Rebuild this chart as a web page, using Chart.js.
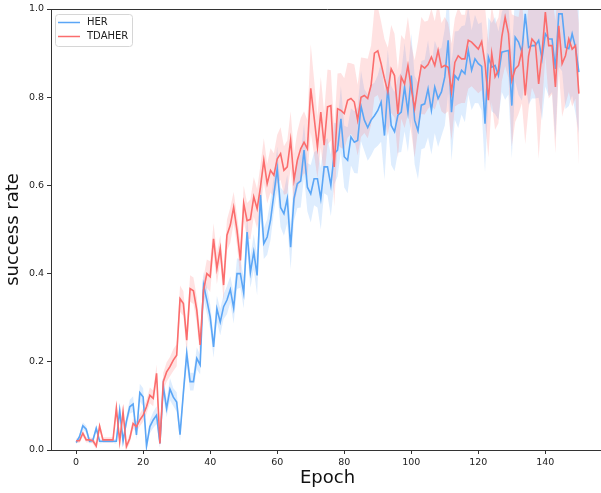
<!DOCTYPE html>
<html>
<head>
<meta charset="utf-8">
<title>success rate</title>
<script src="https://cdn.jsdelivr.net/npm/chart.js@4.4.1/dist/chart.umd.min.js"></script>
<style>
  html, body { margin: 0; padding: 0; background: #fff; overflow: hidden; }
  #wrap { width: 604px; height: 493px; }
</style>
</head>
<body>
<div id="wrap"><canvas id="lineChart" width="604" height="493"></canvas></div>
<script>
// Series labels and colours
var seriesNames = ['HER', 'TDAHER'];

// Mean success rate per epoch (0..150)
var her = [
  0.017, 0.03, 0.055, 0.047, 0.02, 0.022, 0.049, 0.02, 0.02, 0.02,
  0.02, 0.02, 0.02, 0.09, 0.02, 0.065, 0.098, 0.104, 0.034, 0.13,
  0.12, 0.009, 0.053, 0.068, 0.079, 0.015, 0.144, 0.094, 0.138, 0.12,
  0.109, 0.035, 0.13, 0.219, 0.155, 0.155, 0.208, 0.193, 0.374, 0.34,
  0.302, 0.234, 0.32, 0.29, 0.325, 0.34, 0.364, 0.322, 0.40, 0.40,
  0.356, 0.494, 0.403, 0.449, 0.396, 0.578, 0.468, 0.483, 0.521, 0.58,
  0.638, 0.55, 0.536, 0.57, 0.46, 0.57, 0.604, 0.61, 0.68, 0.596,
  0.581, 0.615, 0.615, 0.57, 0.642, 0.642, 0.60, 0.672, 0.68, 0.751,
  0.665, 0.657, 0.71, 0.698, 0.702, 0.78, 0.748, 0.731, 0.748, 0.758,
  0.77, 0.789, 0.713, 0.823, 0.736, 0.722, 0.759, 0.766, 0.823, 0.766,
  0.849, 0.748, 0.724, 0.782, 0.785, 0.819, 0.77, 0.823, 0.797, 0.812,
  0.846, 0.929, 0.766, 0.849, 0.84, 0.861, 0.853, 0.906, 0.861, 0.887,
  0.876, 0.87, 0.74, 0.891, 0.868, 0.872, 0.849, 0.902, 0.904, 0.906,
  0.781, 0.936, 0.925, 0.902, 0.989, 0.913, 0.917, 0.917, 0.929, 0.887,
  0.944, 0.932, 0.932, 0.864, 0.989, 0.989, 0.913, 0.91, 0.944, 0.913,
  0.857
];
var tdaher = [
  0.021, 0.021, 0.038, 0.023, 0.023, 0.021, 0.009, 0.054, 0.023, 0.023,
  0.023, 0.023, 0.095, 0.019, 0.087, 0.008, 0.026, 0.06, 0.053, 0.068,
  0.079, 0.098, 0.124, 0.117, 0.174, 0.015, 0.155, 0.177, 0.189, 0.204,
  0.215, 0.343, 0.332, 0.249, 0.366, 0.361, 0.317, 0.238, 0.362, 0.40,
  0.393, 0.479, 0.411, 0.457, 0.374, 0.487, 0.51, 0.55, 0.498, 0.43,
  0.559, 0.52, 0.523, 0.574, 0.547, 0.596, 0.657, 0.604, 0.634, 0.623,
  0.66, 0.672, 0.634, 0.642, 0.703, 0.612, 0.657, 0.683, 0.698, 0.683,
  0.82, 0.755, 0.687, 0.766, 0.691, 0.778, 0.781, 0.642, 0.774, 0.77,
  0.763, 0.793, 0.797, 0.789, 0.748, 0.80, 0.804, 0.797, 0.827, 0.90,
  0.905, 0.876, 0.842, 0.812, 0.864, 0.849, 0.762, 0.846, 0.83, 0.872,
  0.819, 0.774, 0.827, 0.872, 0.866, 0.874, 0.891, 0.872, 0.906, 0.868,
  0.872, 0.868, 0.812, 0.879, 0.894, 0.887, 0.887, 0.929, 0.925, 0.917,
  0.909, 0.926, 0.876, 0.793, 0.899, 0.846, 0.861, 0.936, 0.981, 0.944,
  0.838, 0.864, 0.872, 0.906, 0.804, 0.894, 0.932, 0.923, 0.83, 0.899,
  0.993, 0.917, 0.917, 0.823, 0.962, 0.876, 0.894, 0.932, 0.909, 0.917,
  0.808
];

// Half-width of the shaded band per epoch
var herStd = [
  0.004, 0.006, 0.008, 0.008, 0.005, 0.005, 0.008, 0.005, 0.004, 0.004,
  0.004, 0.004, 0.006, 0.012, 0.006, 0.012, 0.016, 0.018, 0.01, 0.02,
  0.02, 0.01, 0.015, 0.018, 0.02, 0.01, 0.022, 0.02, 0.025, 0.02,
  0.022, 0.015, 0.02, 0.025, 0.02, 0.02, 0.025, 0.022, 0.03, 0.03,
  0.028, 0.025, 0.03, 0.03, 0.028, 0.032, 0.03, 0.035, 0.035, 0.032,
  0.035, 0.04, 0.035, 0.04, 0.045, 0.045, 0.035, 0.04, 0.045, 0.04,
  0.05, 0.045, 0.05, 0.055, 0.05, 0.05, 0.055, 0.06, 0.06, 0.055,
  0.065, 0.06, 0.065, 0.07, 0.06, 0.065, 0.07, 0.07, 0.06, 0.075,
  0.07, 0.075, 0.065, 0.07, 0.075, 0.08, 0.07, 0.075, 0.08, 0.075,
  0.08, 0.09, 0.1, 0.085, 0.09, 0.09, 0.085, 0.09, 0.1, 0.09,
  0.095, 0.1, 0.11, 0.1, 0.1, 0.11, 0.1, 0.105, 0.11, 0.1,
  0.11, 0.12, 0.11, 0.1, 0.11, 0.1, 0.11, 0.1, 0.09, 0.1,
  0.09, 0.1, 0.11, 0.09, 0.1, 0.11, 0.1, 0.09, 0.11, 0.1,
  0.12, 0.1, 0.12, 0.11, 0.15, 0.13, 0.12, 0.12, 0.13, 0.14,
  0.12, 0.13, 0.12, 0.16, 0.12, 0.13, 0.14, 0.13, 0.14, 0.15,
  0.14
];
var tdaherStd = [
  0.005, 0.005, 0.008, 0.006, 0.006, 0.006, 0.008, 0.01, 0.006, 0.006,
  0.006, 0.006, 0.012, 0.008, 0.012, 0.008, 0.01, 0.012, 0.012, 0.014,
  0.015, 0.016, 0.018, 0.018, 0.02, 0.01, 0.02, 0.022, 0.022, 0.025,
  0.025, 0.03, 0.028, 0.03, 0.03, 0.03, 0.03, 0.028, 0.03, 0.032,
  0.035, 0.035, 0.035, 0.03, 0.035, 0.035, 0.04, 0.035, 0.035, 0.04,
  0.04, 0.04, 0.045, 0.045, 0.045, 0.05, 0.05, 0.045, 0.05, 0.05,
  0.055, 0.06, 0.055, 0.06, 0.065, 0.06, 0.065, 0.07, 0.07, 0.065,
  0.1, 0.085, 0.07, 0.08, 0.075, 0.085, 0.08, 0.09, 0.08, 0.085,
  0.08, 0.085, 0.08, 0.085, 0.08, 0.09, 0.085, 0.09, 0.09, 0.1,
  0.1, 0.095, 0.09, 0.1, 0.1, 0.095, 0.1, 0.095, 0.1, 0.11,
  0.1, 0.11, 0.1, 0.11, 0.105, 0.1, 0.11, 0.1, 0.11, 0.1,
  0.11, 0.1, 0.11, 0.1, 0.11, 0.1, 0.1, 0.11, 0.1, 0.1,
  0.1, 0.11, 0.13, 0.13, 0.11, 0.12, 0.12, 0.1, 0.11, 0.1,
  0.15, 0.12, 0.11, 0.12, 0.11, 0.12, 0.11, 0.12, 0.17, 0.12,
  0.1, 0.12, 0.11, 0.15, 0.1, 0.12, 0.11, 0.12, 0.13, 0.12,
  0.16
];

// Tick labels
var xTicks = [0, 20, 40, 60, 80, 100, 120, 140];
var yTicks = [0.0, 0.2, 0.4, 0.6, 0.8, 1.0];

var herColor = '#5ba6f6';
var tdaherColor = '#fb6d6d';

function toPoints(values) {
    return values.map(function(v, i) { return { x: i, y: v }; });
}
function shift(values, spread, sign) {
    return values.map(function(v, i) { return { x: i, y: v + sign * spread[i] }; });
}

// Legend drawn inside the plot, matplotlib style
var insideLegend = {
    id: 'insideLegend',
    afterDraw: function(chart) {
        var ctx = chart.ctx;
        var left = chart.chartArea.left + 4, top = chart.chartArea.top + 5;
        ctx.save();
        ctx.beginPath();
        ctx.roundRect(left + 0.5, top + 0.5, 77, 32, 3);
        ctx.fillStyle = 'rgba(255,255,255,0.8)';
        ctx.fill();
        ctx.strokeStyle = '#d6d6d6';
        ctx.lineWidth = 1;
        ctx.stroke();
        ctx.font = '10px "DejaVu Sans"';
        ctx.textBaseline = 'middle';
        [chart.data.datasets[1], chart.data.datasets[0]].forEach(function(ds, i) {
            var y = top + 8.5 + i * 14;
            ctx.beginPath();
            ctx.moveTo(left + 3, y);
            ctx.lineTo(left + 25, y);
            ctx.strokeStyle = ds.borderColor;
            ctx.lineWidth = 1.5;
            ctx.stroke();
            ctx.fillStyle = '#222';
            ctx.fillText(ds.label, left + 32, y);
        });
        ctx.restore();
    }
};

// Top spine
var frame = {
    id: 'frame',
    afterDraw: function(chart) {
        var a = chart.chartArea, ctx = chart.ctx;
        ctx.save();
        ctx.strokeStyle = '#333';
        ctx.lineWidth = 1;
        ctx.beginPath();
        ctx.moveTo(a.left, a.top + 0.5);
        ctx.lineTo(a.right, a.top + 0.5);
        ctx.stroke();
        ctx.restore();
    }
};

document.addEventListener("DOMContentLoaded", function() {
    var ctx = document.getElementById('lineChart');
    var tickFont = { family: '"DejaVu Sans"', size: 9.5 };
    var titleFont = { family: '"DejaVu Sans"', size: 18 };

    new Chart(ctx, {
        type: 'line',
        data: {
            datasets: [{
                label: seriesNames[1],
                data: toPoints(tdaher),
                borderColor: tdaherColor,
                borderWidth: 1.6,
                pointRadius: 0,
                fill: false
            }, {
                label: seriesNames[0],
                data: toPoints(her),
                borderColor: herColor,
                borderWidth: 1.6,
                pointRadius: 0,
                fill: false
            }, {
                label: 'tdaher-low',
                data: shift(tdaher, tdaherStd, -1),
                borderWidth: 0,
                pointRadius: 0,
                fill: false
            }, {
                label: 'tdaher-high',
                data: shift(tdaher, tdaherStd, 1),
                borderWidth: 0,
                pointRadius: 0,
                backgroundColor: 'rgba(255, 110, 110, 0.2)',
                fill: '-1'
            }, {
                label: 'her-low',
                data: shift(her, herStd, -1),
                borderWidth: 0,
                pointRadius: 0,
                fill: false
            }, {
                label: 'her-high',
                data: shift(her, herStd, 1),
                borderWidth: 0,
                pointRadius: 0,
                backgroundColor: 'rgba(90, 165, 250, 0.2)',
                fill: '-1'
            }]
        },
        options: {
            responsive: false,
            animation: false,
            devicePixelRatio: 1,
            layout: { padding: { top: 9, left: 0, right: 0, bottom: 0 } },
            plugins: {
                legend: { display: false },
                tooltip: { enabled: false }
            },
            scales: {
                x: {
                    type: 'linear',
                    min: -7.5,
                    max: 157.5,
                    afterBuildTicks: function(scale) {
                        scale.ticks = xTicks.map(function(v) { return { value: v }; });
                    },
                    afterFit: function(scale) { scale.height = 43; },
                    grid: { drawOnChartArea: false, tickLength: 4, color: '#333' },
                    border: { color: '#333', width: 1 },
                    ticks: { font: tickFont, color: '#222', padding: 3, maxRotation: 0 },
                    title: {
                        display: true, text: 'Epoch', font: titleFont, color: '#111',
                        padding: { top: 0, bottom: 4 }
                    }
                },
                y: {
                    min: 0,
                    max: 1,
                    afterBuildTicks: function(scale) {
                        scale.ticks = yTicks.map(function(v) { return { value: v }; });
                    },
                    afterFit: function(scale) { scale.width = 51; },
                    grid: { drawOnChartArea: false, tickLength: 4, color: '#333' },
                    border: { color: '#333', width: 1 },
                    ticks: {
                        font: tickFont, color: '#222', padding: 3,
                        callback: function(v) { return Number(v).toFixed(1); }
                    },
                    title: {
                        display: true, text: 'success rate', font: titleFont, color: '#111',
                        padding: { top: 3, bottom: 0 }
                    }
                }
            }
        },
        plugins: [insideLegend, frame]
    });
});
</script>
</body>
</html>
